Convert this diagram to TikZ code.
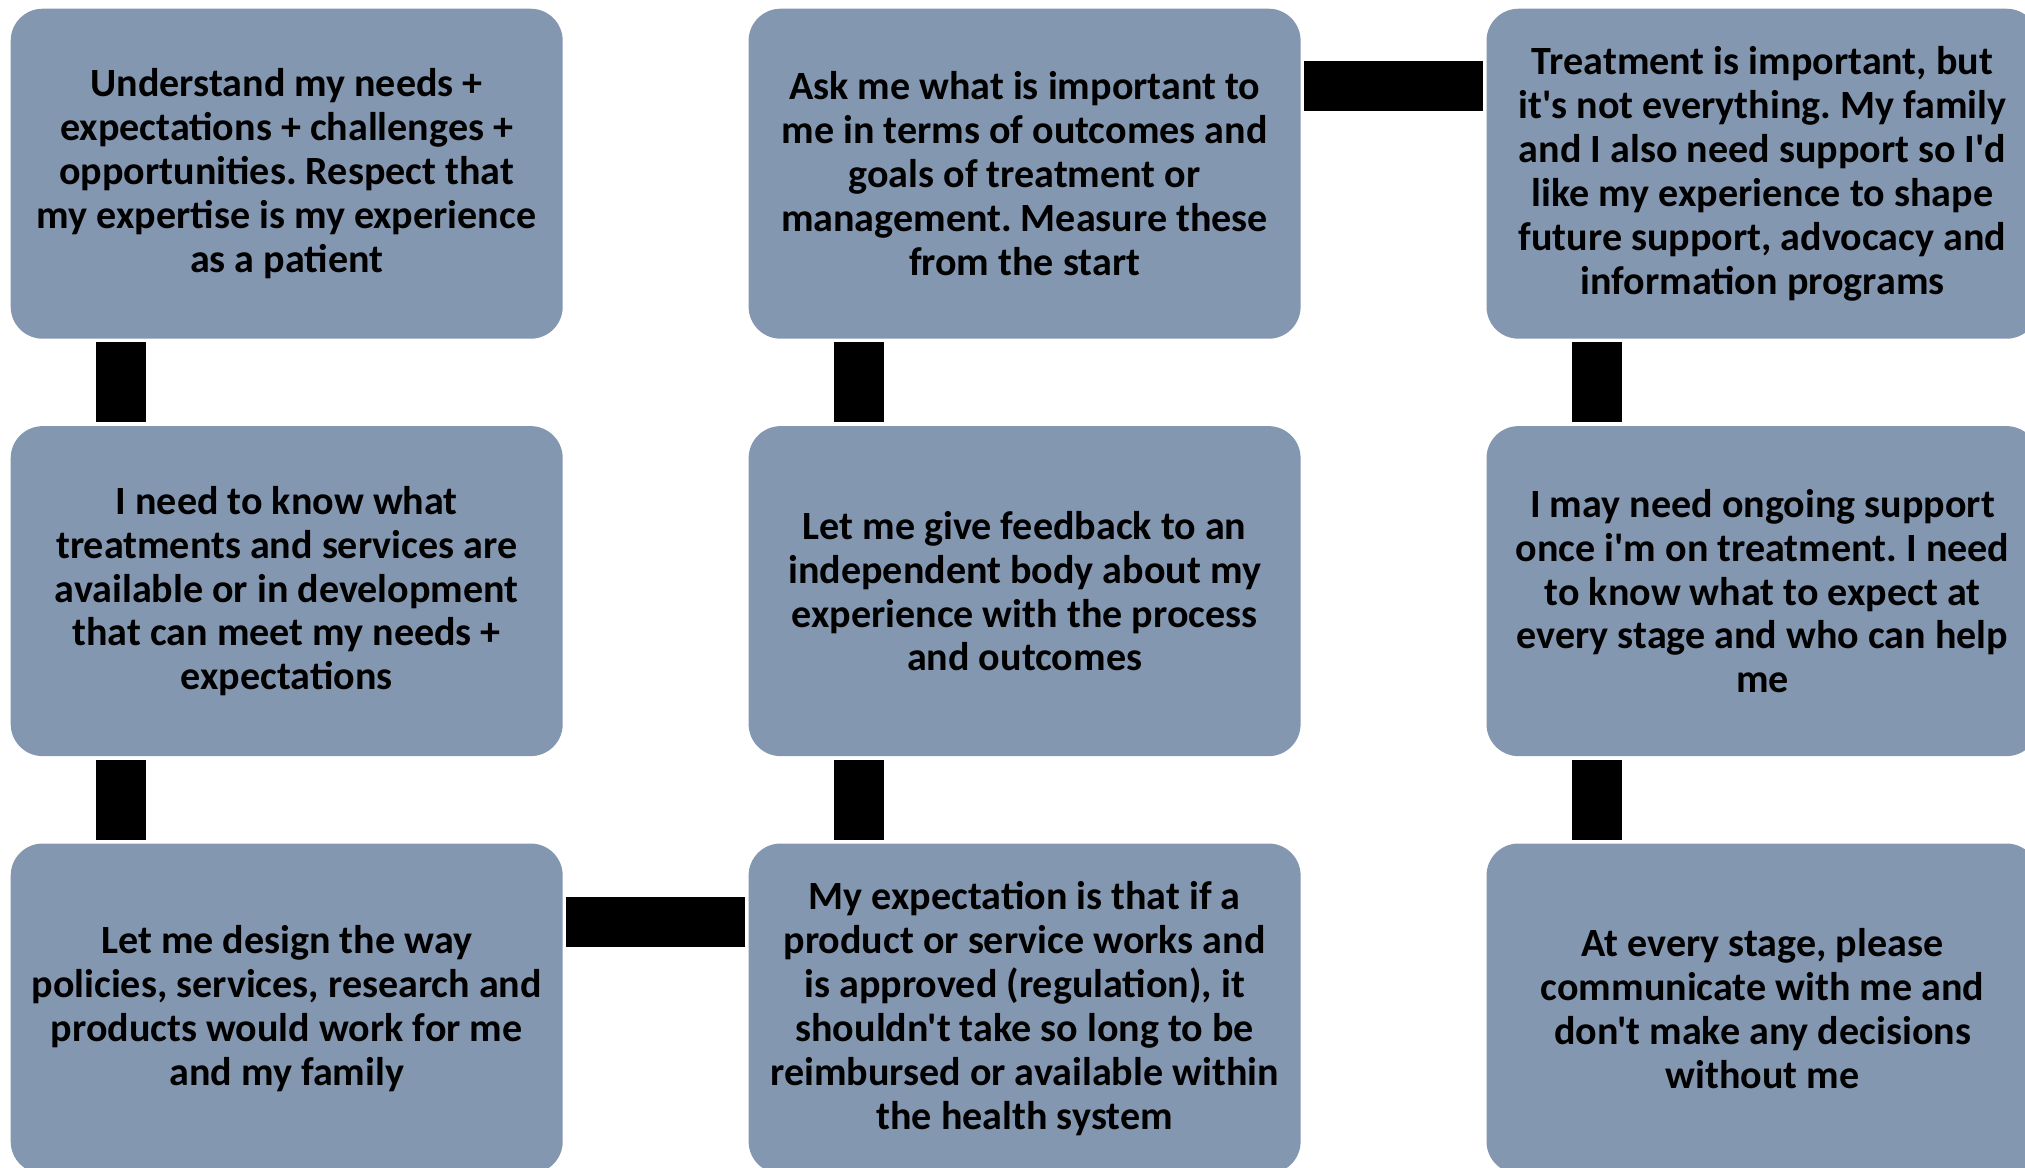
\documentclass[tikz,border=0pt]{standalone}
\usepackage{fontspec}
\setmainfont{Carlito}[Ligatures=TeXOff]
\usetikzlibrary{positioning}
\definecolor{boxblue}{HTML}{8497B0}
\frenchspacing

\begin{document}
\begin{tikzpicture}[x=0.1mm,y=0.1mm,
  card/.style={fill=boxblue,rounded corners=3.2mm,minimum width=55.2mm,
    minimum height=33mm,inner sep=0pt,align=center,
    font=\fontsize{11.4}{12.5}\selectfont\bfseries},
  bar/.style={line width=5mm,shorten <=0.3mm,shorten >=0.3mm}]
  % Configurable parameters
  \def\hgap{18.45mm}
  \def\vgap{8.6mm}
  \def\baroff{11.1mm}
  %
  % Frame
  \useasboundingbox (0,0) rectangle (2025,-1167);
  \clip (0,0) rectangle (2025,-1167);
  %
  % Top row
  \node[card,anchor=north west] (understand) at (10,-8)
    {Understand my needs +\\ expectations + challenges +\\ opportunities. Respect that\\
     my expertise is my experience\\ as a patient};
  \node[card,right=\hgap of understand] (ask)
    {Ask me what is important to\\ me in terms of outcomes and\\ goals of treatment or\\
     management. Measure these\\ from the start};
  \node[card,right=\hgap of ask] (treatment)
    {Treatment is important, but\\ it's not everything. My family\\ and I also need support so I'd\\
     like my experience to shape\\ future support, advocacy and\\ information programs};
  %
  % Middle row
  \node[card,below=\vgap of understand] (know)
    {I need to know what\\ treatments and services are\\ available or in development\\
     that can meet my needs +\\ expectations};
  \node[card,below=\vgap of ask] (feedback)
    {Let me give feedback to an\\ independent body about my\\ experience with the process\\
     and outcomes};
  \node[card,below=\vgap of treatment] (ongoing)
    {I may need ongoing support\\ once i'm on treatment. I need\\ to know what to expect at\\
     every stage and who can help\\ me};
  %
  % Bottom row
  \node[card,below=\vgap of know] (design)
    {Let me design the way\\ policies, services, research and\\ products would work for me\\
     and my family};
  \node[card,below=\vgap of feedback] (expect)
    {My expectation is that if a\\ product or service works and\\ is approved (regulation), it\\
     shouldn't take so long to be\\ reimbursed or available within\\ the health system};
  \node[card,below=\vgap of ongoing] (communicate)
    {At every stage, please\\ communicate with me and\\ don't make any decisions\\
     without me};
  %
  % Vertical bars
  \foreach \a/\b in {understand/know,know/design,ask/feedback,feedback/expect,
    treatment/ongoing,ongoing/communicate}
    \draw[bar] ([xshift=\baroff]\a.south west) -- ([xshift=\baroff]\b.north west);
  %
  % Horizontal bars
  \draw[bar] ([yshift=-7.8mm]ask.north east) -- ([yshift=-7.8mm]treatment.north west);
  \draw[bar] ([yshift=-7.95mm]design.north east) -- ([yshift=-7.95mm]expect.north west);
  %
\end{tikzpicture}
\end{document}
